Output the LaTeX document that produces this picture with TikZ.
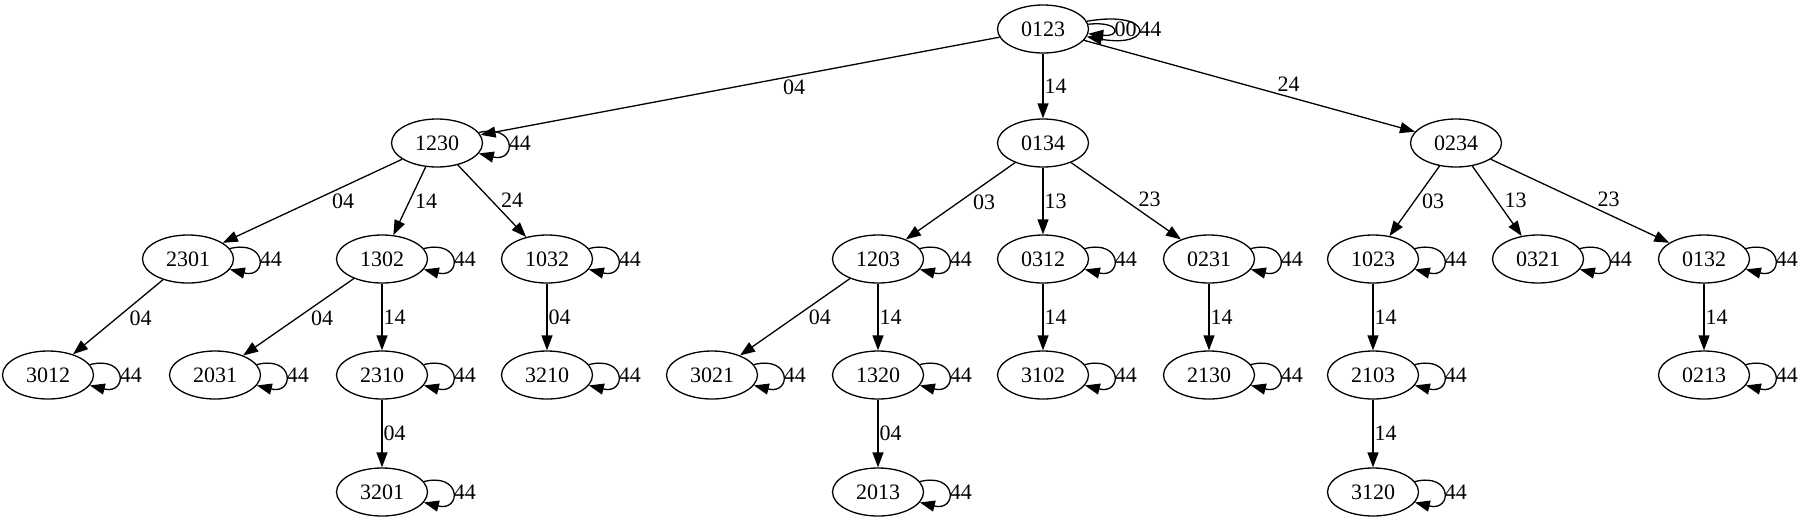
\documentclass[tikz,border=0pt]{standalone}
\usepackage{fontspec}
\setmainfont{Liberation Serif}
\usepackage{tikz}
\usetikzlibrary{positioning, shapes.geometric, arrows.meta}

\begin{document}
\begin{tikzpicture}[x=1pt, y=1pt, on grid, line width=1.3pt,
        font=\fontsize{22}{26}\selectfont,
        perm/.style={ellipse, draw, minimum width=91pt, minimum height=48pt, inner sep=0pt},
        lbl/.style={inner sep=1pt},
        selfloop/.style={loop, out=14, in=-14, distance=39pt},
        >={Triangle[length=15pt, width=11pt]}]
        \useasboundingbox (0,0) rectangle (1805,-523);

        % top and first level
        \node[perm](0123) at (1043,-29) {0123};
        \node[perm](0134)[below = 114pt of 0123]{0134};
        \node[perm](1230)[left = 606pt of 0134]{1230};
        \node[perm](0234)[right = 413pt of 0134]{0234};

        % second level
        \node[perm](0312)[below = 116pt of 0134]{0312};
        \node[perm](1203)[left = 165pt of 0312]{1203};
        \node[perm](0231)[right = 166pt of 0312]{0231};
        \node[perm](1023)[right = 164pt of 0231]{1023};
        \node[perm](0321)[right = 165pt of 1023]{0321};
        \node[perm](0132)[right = 166pt of 0321]{0132};
        \node[perm](1032)[left = 331pt of 1203]{1032};
        \node[perm](1302)[left = 165pt of 1032]{1302};
        \node[perm](2301)[left = 194pt of 1302]{2301};

        % third level
        \node[perm](2310)[below = 116pt of 1302]{2310};
        \node[perm](2031)[left = 167pt of 2310]{2031};
        \node[perm](3012)[left = 167pt of 2031]{3012};
        \node[perm](3210)[below = 116pt of 1032]{3210};
        \node[perm](1320)[below = 116pt of 1203]{1320};
        \node[perm](3021)[left = 166pt of 1320]{3021};
        \node[perm](3102)[below = 116pt of 0312]{3102};
        \node[perm](2130)[below = 116pt of 0231]{2130};
        \node[perm](2103)[below = 116pt of 1023]{2103};
        \node[perm](0213)[below = 116pt of 0132]{0213};

        % fourth level
        \node[perm](3201)[below = 117pt of 2310]{3201};
        \node[perm](2013)[below = 117pt of 1320]{2013};
        \node[perm](3120)[below = 117pt of 2103]{3120};

        \path[->, draw]
        (0123) edge[selfloop, out=6, in=-6, distance=33pt] node[lbl, right] {00} (0123)
        (0123) edge[selfloop, out=10, in=-10, distance=69pt] node[lbl, right] {44} (0123)
        (0123) edge node[lbl, below right, pos=0.42] {04} (1230)
        (0123) edge node[lbl, right] {14} (0134)
        (0123) edge node[lbl, above right, pos=0.58] {24} (0234)
        (1230) edge[selfloop] node[lbl, right] {44} (1230)
        (1230) edge node[lbl, below right, pos=0.40] {04} (2301)
        (1230) edge node[lbl, below right, pos=0.38] {14} (1302)
        (1230) edge node[lbl, above right, pos=0.61] {24} (1032)
        (0134) edge node[lbl, below right, pos=0.40] {03} (1203)
        (0134) edge node[lbl, right] {13} (0312)
        (0134) edge node[lbl, above right, pos=0.60] {23} (0231)
        (0234) edge node[lbl, below right, pos=0.38] {03} (1023)
        (0234) edge node[lbl, above right, pos=0.62] {13} (0321)
        (0234) edge node[lbl, above right, pos=0.59] {23} (0132)
        (2301) edge[selfloop] node[lbl, right] {44} (2301)
        (1302) edge[selfloop] node[lbl, right] {44} (1302)
        (1032) edge[selfloop] node[lbl, right] {44} (1032)
        (1203) edge[selfloop] node[lbl, right] {44} (1203)
        (0312) edge[selfloop] node[lbl, right] {44} (0312)
        (0231) edge[selfloop] node[lbl, right] {44} (0231)
        (1023) edge[selfloop] node[lbl, right] {44} (1023)
        (0321) edge[selfloop] node[lbl, right] {44} (0321)
        (0132) edge[selfloop] node[lbl, right] {44} (0132)
        (2301) edge node[lbl, below right, pos=0.39] {04} (3012)
        (1302) edge node[lbl, below right, pos=0.40] {04} (2031)
        (1302) edge node[lbl, right] {14} (2310)
        (1032) edge node[lbl, right] {04} (3210)
        (1203) edge node[lbl, below right, pos=0.39] {04} (3021)
        (1203) edge node[lbl, right] {14} (1320)
        (0312) edge node[lbl, right] {14} (3102)
        (0231) edge node[lbl, right] {14} (2130)
        (1023) edge node[lbl, right] {14} (2103)
        (0132) edge node[lbl, right] {14} (0213)
        (3012) edge[selfloop] node[lbl, right] {44} (3012)
        (2031) edge[selfloop] node[lbl, right] {44} (2031)
        (2310) edge[selfloop] node[lbl, right] {44} (2310)
        (3210) edge[selfloop] node[lbl, right] {44} (3210)
        (3021) edge[selfloop] node[lbl, right] {44} (3021)
        (1320) edge[selfloop] node[lbl, right] {44} (1320)
        (3102) edge[selfloop] node[lbl, right] {44} (3102)
        (2130) edge[selfloop] node[lbl, right] {44} (2130)
        (2103) edge[selfloop] node[lbl, right] {44} (2103)
        (0213) edge[selfloop] node[lbl, right] {44} (0213)
        (2310) edge node[lbl, right] {04} (3201)
        (1320) edge node[lbl, right] {04} (2013)
        (2103) edge node[lbl, right] {14} (3120)
        (3201) edge[selfloop] node[lbl, right] {44} (3201)
        (2013) edge[selfloop] node[lbl, right] {44} (2013)
        (3120) edge[selfloop] node[lbl, right] {44} (3120);
    \end{tikzpicture}
\end{document}
